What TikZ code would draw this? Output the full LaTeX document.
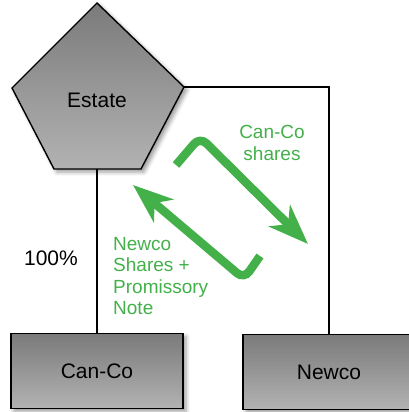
\documentclass[tikz,border=0pt]{standalone}
\usepackage{fontspec}
\setmainfont{Liberation Sans}
\usetikzlibrary{arrows.meta,positioning,calc,shadows.blur}
\definecolor{flowgreen}{RGB}{67,176,73}
\tikzset{
  entity/.style ={draw=black, line width=1.4pt, top color=black!52, bottom color=black!30,
                  blur shadow={shadow xshift=3pt, shadow yshift=-3pt, shadow blur radius=4pt}},
  cobox/.style  ={entity, minimum width=172pt, minimum height=75pt, inner sep=0pt,
                  font=\fontsize{21}{24}\selectfont},
  lbl/.style    ={font=\fontsize{21}{24}\selectfont, inner sep=0pt},
  glbl/.style   ={font=\fontsize{19}{21.5}\selectfont, text=flowgreen, inner sep=0pt},
  own/.style    ={draw=black, line width=1.6pt},
  flow/.style   ={draw=flowgreen, line width=8.5pt, rounded corners=9pt,
                  -{Stealth[length=40pt, width=30pt, inset=12pt]}},
}
\begin{document}
\begin{tikzpicture}[x=1pt, y=-1pt]
\useasboundingbox (0,0) rectangle (409,412);
\clip (0,0) rectangle (409,412);

% ---- estate ----
\coordinate (e-top) at (97,3);
\coordinate (e-right) at (184,87);
\coordinate (e-br) at (141,169);
\coordinate (e-bl) at (54,169);
\coordinate (e-left) at (12,88);
\coordinate (e-bottom) at (97,169);
\path[entity] (e-top) -- (e-right) -- (e-br) -- (e-bl) -- (e-left) -- cycle;
\node[lbl] (estate) at (97,100) {Estate};

% ---- companies ----
\node[cobox] (canco) at (97,371) {Can-Co};
\node[cobox] (newco) at (329,372) {Newco};

% ---- ownership lines ----
\draw[own] (e-bottom) -- (canco.north);
\draw[own] (e-right) -| (newco.north);
\node[lbl] (pct) at (51,258) {100\%};

% ---- exchange ----
\coordinate (a1s) at (176,165);
\coordinate (a1c) at (200,137);
\coordinate (a1e) at (308,244);
\draw[flow] (a1s) -- (a1c) -- (a1e);
\coordinate (a2s) at (260,256);
\coordinate (a2c) at (244,279);
\coordinate (a2e) at (133,185);
\draw[flow] (a2s) -- (a2c) -- (a2e);

\node[glbl, align=center] (sharesout) at (272,143) {Can-Co\\shares};
\node[glbl, align=left, anchor=west] (sharesin) at (113,276) {Newco\\Shares +\\Promissory\\Note};

\end{tikzpicture}
\end{document}
